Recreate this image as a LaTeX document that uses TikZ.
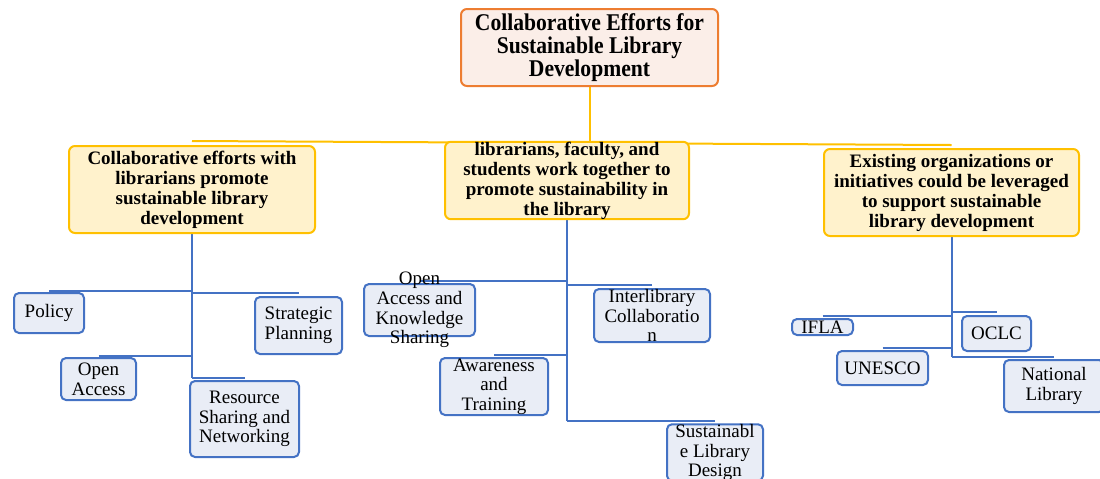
\documentclass[tikz,border=0pt]{standalone}
\usepackage{fontspec}
\setmainfont{Liberation Serif}
\newfontfamily\titlefont[FakeStretch=0.9]{Liberation Serif}
\usetikzlibrary{backgrounds}

\definecolor{rootorange}{HTML}{ED7D31}
\definecolor{rootfill}{HTML}{FBEEE8}
\definecolor{topicgold}{HTML}{FFC000}
\definecolor{topicfill}{HTML}{FFF2CC}
\definecolor{leafblue}{HTML}{4472C4}
\definecolor{leaffill}{HTML}{E9EDF6}

\begin{document}
\begin{tikzpicture}[x=0.5pt,y=-0.5pt,every node/.style={align=center},
   root/.style={draw=rootorange,fill=rootfill,line width=1pt,rounded corners=3pt,inner sep=0pt,
     font=\titlefont\bfseries\fontsize{12}{11.5}\selectfont},
   topic/.style={draw=topicgold,fill=topicfill,line width=1pt,rounded corners=3pt,inner sep=0pt,
     font=\bfseries\fontsize{9.5}{10}\selectfont},
   leaf/.style={draw=leafblue,fill=leaffill,line width=1pt,rounded corners=2.5pt,inner sep=0pt,
     font=\fontsize{9.5}{9.8}\selectfont},
   leaftxt/.style={inner sep=0pt,align=center,font=\fontsize{9.5}{9.8}\selectfont},
   yline/.style={draw=topicgold,line width=1pt},
   bline/.style={draw=leafblue,line width=1pt}]
   \useasboundingbox (0,0) rectangle (1100,478);

   \node[root,minimum width=128.5pt,minimum height=38.5pt] (root) at (589.5,47.5)
      {Collaborative Efforts for\\Sustainable Library\\Development};

   \node[topic,minimum width=123pt,minimum height=43.5pt] (ta) at (192,189.5)
      {Collaborative efforts with\\librarians promote\\sustainable library\\development};
   \node[topic,minimum width=122pt,minimum height=38.5pt] (tb) at (567,180.5)
      {librarians, faculty, and\\students work together to\\promote sustainability in\\the library};
   \node[topic,minimum width=127.5pt,minimum height=43.5pt] (tc) at (951.5,192.5)
      {Existing organizations or\\initiatives could be leveraged\\to support sustainable\\library development};

   % first topic
   \node[leaf,minimum width=35pt,minimum height=20pt] (pol) at (49,313) {Policy};
   \node[leaf,minimum width=43.5pt,minimum height=28.5pt] (strat) at (298.5,325.5) {Strategic\\Planning};
   \node[leaf,minimum width=37.5pt,minimum height=21pt] (oa) at (98.5,379) {Open\\Access};
   \node[leaf,minimum width=54.5pt,minimum height=38pt] (res) at (244.5,419) {Resource\\Sharing and\\Networking};

   % second topic
   \node[leaf,minimum width=55.5pt,minimum height=26pt,
      label={[leaftxt]center:Open\\Access and\\Knowledge\\Sharing}] (oaks) at (419.5,310) {};
   \node[leaf,minimum width=58pt,minimum height=26.5pt] (inter) at (652,315.5) {Interlibrary\\Collaboratio\\n};
   \node[leaf,minimum width=54pt,minimum height=28.5pt] (aware) at (494,386.5) {Awareness\\and\\Training};
   \node[leaf,minimum width=48pt,minimum height=27.5pt] (sust) at (715,452.5) {Sustainabl\\e Library\\Design};

   % third topic
   \node[leaf,minimum width=30.5pt,minimum height=8pt] (ifla) at (822.5,327) {IFLA};
   \node[leaf,minimum width=34.5pt,minimum height=17.5pt] (oclc) at (996.5,333.5) {OCLC};
   \node[leaf,minimum width=45.5pt,minimum height=17pt] (unesco) at (882.5,368) {UNESCO};
   \node[leaf,minimum width=50pt,minimum height=26pt] (natl) at (1054,386) {National\\Library};

   \begin{scope}[on background layer]
      \draw[yline] (root.south) -- (root.south |- tb.north);
      \draw[yline] ([yshift=2pt]ta.north) -- ([yshift=1.5pt]tc.north);

      \draw[bline] (ta.south) -- ([yshift=1pt]ta.south |- res.north);
      \draw[bline] ([yshift=0.5pt]pol.north) -- ([yshift=0.5pt]pol.north -| ta.south);
      \draw[bline] ([yshift=1.5pt]strat.north) -- ([yshift=1.5pt]strat.north -| ta.south);
      \draw[bline] ([yshift=0.5pt]oa.north) -- ([yshift=0.5pt]oa.north -| ta.south);
      \draw[bline] ([yshift=1pt]res.north) -- ([yshift=1pt]res.north -| ta.south);

      \draw[bline] (tb.south) -- ([yshift=1pt]tb.south |- sust.north);
      \draw[bline] ([yshift=1pt]oaks.north) -- ([yshift=1pt]oaks.north -| tb.south);
      \draw[bline] ([yshift=1.5pt]inter.north) -- ([yshift=1.5pt]inter.north -| tb.south);
      \draw[bline] ([yshift=1pt]aware.north) -- ([yshift=1pt]aware.north -| tb.south);
      \draw[bline] ([yshift=1pt]sust.north) -- ([yshift=1pt]sust.north -| tb.south);

      \draw[bline] (tc.south) -- ([yshift=1pt]tc.south |- natl.north);
      \draw[bline] ([yshift=1pt]ifla.north) -- ([yshift=1pt]ifla.north -| tc.south);
      \draw[bline] ([yshift=1.5pt]oclc.north) -- ([yshift=1.5pt]oclc.north -| tc.south);
      \draw[bline] ([yshift=1pt]unesco.north) -- ([yshift=1pt]unesco.north -| tc.south);
      \draw[bline] ([yshift=1pt]natl.north) -- ([yshift=1pt]natl.north -| tc.south);
   \end{scope}
\end{tikzpicture}
\end{document}
